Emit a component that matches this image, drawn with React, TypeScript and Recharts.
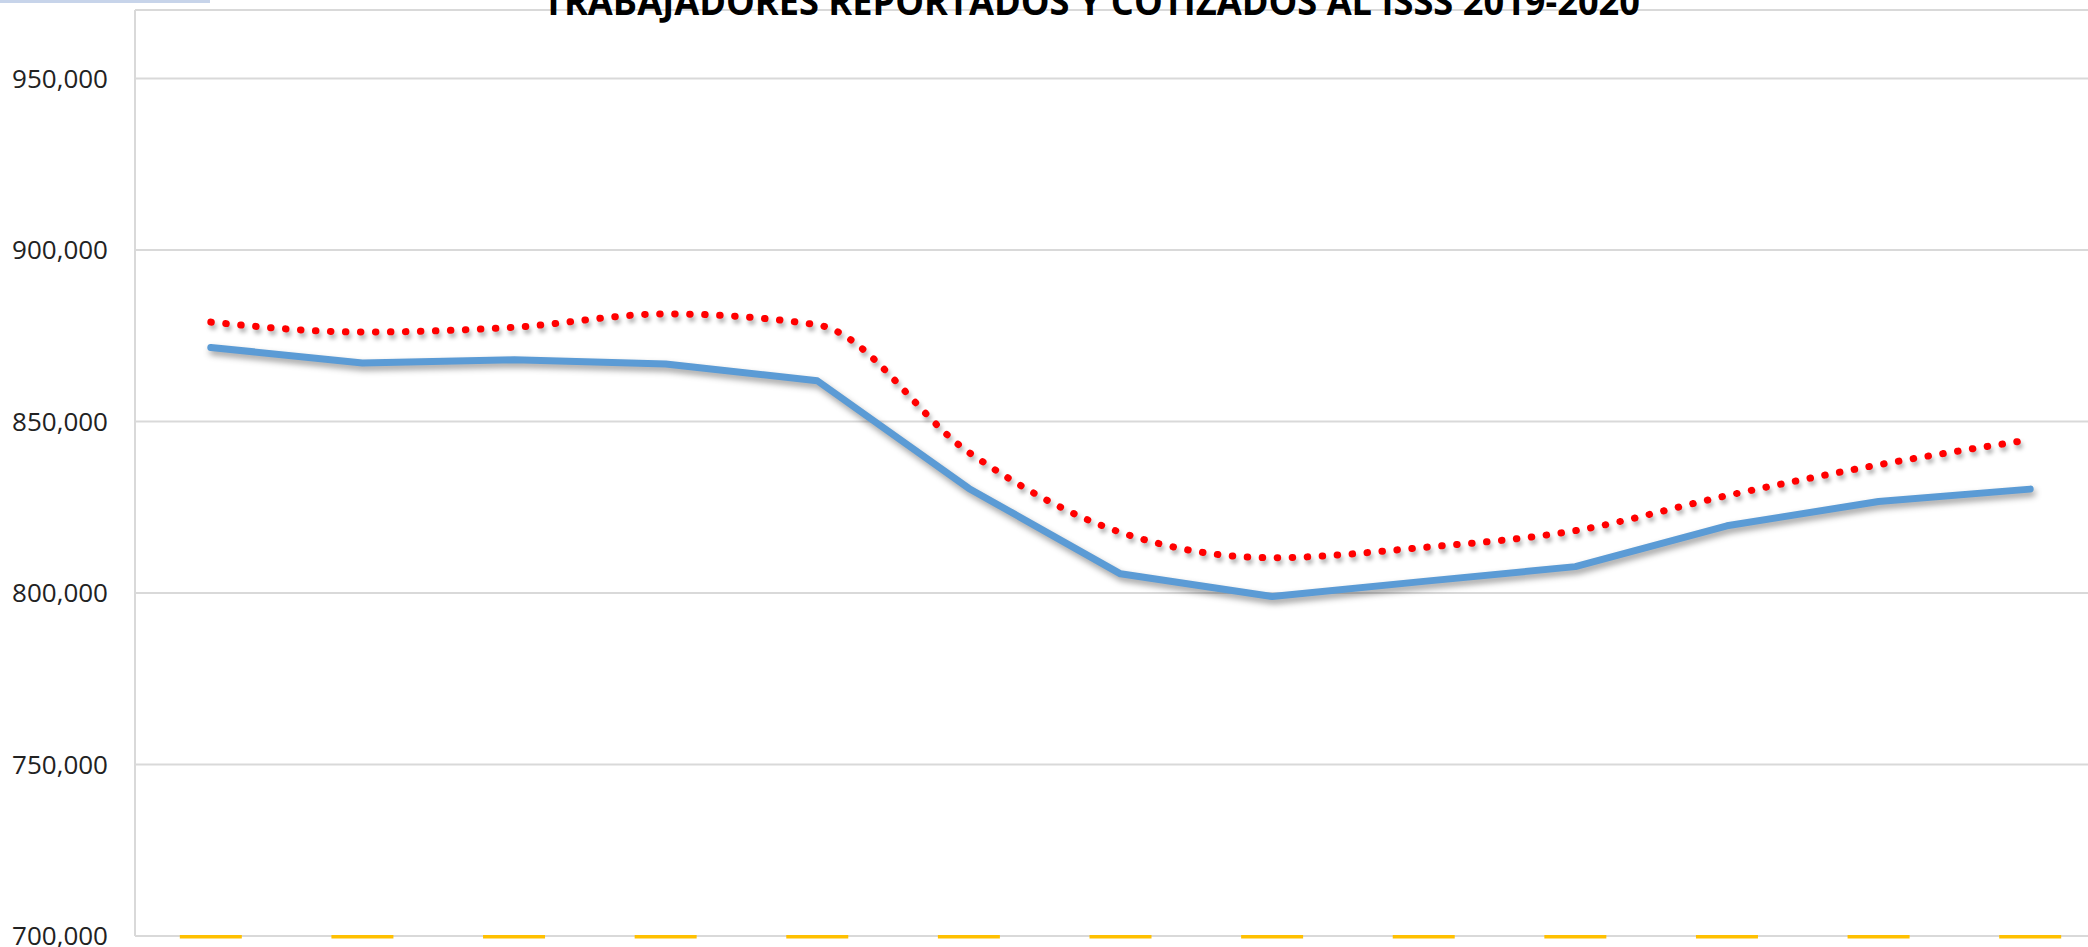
import { LineChart, Line, XAxis, YAxis, CartesianGrid, ReferenceLine } from "recharts";

// meses (no se muestran etiquetas en el eje X)
const meses = [
  "nov-19", "dic-19", "ene-20", "feb-20", "mar-20", "abr-20", "may-20",
  "jun-20", "jul-20", "ago-20", "sep-20", "oct-20", "nov-20",
];
const reportados = [
  879000, 876100, 877500, 881400, 878200, 841000, 817700,
  810300, 813300, 818200, 828400, 837400, 844700,
];
const cotizados = [
  871600, 867100, 868000, 866800, 861900, 830500, 805600,
  799000, 803400, 807700, 819600, 826700, 830300,
];
const serie3 = [
  700000, 700000, 700000, 700000, 700000, 700000, 700000,
  700000, 700000, 700000, 700000, 700000, 700000,
];
const yTicks = [700000, 750000, 800000, 850000, 900000, 950000];
const limitesMes = [0.5, 1.5, 2.5, 3.5, 4.5, 5.5, 6.5, 7.5, 8.5, 9.5, 10.5, 11.5, 12.5, 13.5];

const data = meses.map((mes, i) => ({
  idx: i + 1,
  mes,
  reportados: reportados[i],
  cotizados: cotizados[i],
  serie3: serie3[i],
}));

const GRID = "#d9d9d9";
const titulo = "TRABAJADORES REPORTADOS Y COTIZADOS AL ISSS 2019-2020";

const fmt = (v: number) => v.toLocaleString("en-US");

// marcador en forma de guion para la tercera serie
const Guion = (props: any) => {
  const { cx, cy } = props;
  if (cx == null || cy == null) return null;
  return <rect x={cx - 31} y={cy - 1} width={62} height={3.5} fill="#ffc000" />;
};

export default function App() {
  return (
    <div
      style={{
        position: "absolute",
        left: 0,
        top: 0,
        width: 2088,
        height: 947,
        overflow: "hidden",
        background: "#fff",
      }}
    >
      <style>{`
        .linea-azul path { filter: drop-shadow(2px 4px 3px rgba(0,0,0,0.38)); }
        .linea-roja path { filter: drop-shadow(2px 4px 2px rgba(0,0,0,0.3)); }
        .guiones rect { filter: drop-shadow(1px 2px 1px rgba(0,0,0,0.15)); }
      `}</style>
      <div
        style={{
          position: "absolute",
          left: 0,
          top: 0,
          width: 210,
          height: 3,
          background: "#c7d4ea",
        }}
      />
      <LineChart
        width={2110}
        height={960}
        data={data}
        margin={{ top: 10, right: 4, bottom: 13, left: 0 }}
      >
        <CartesianGrid stroke={GRID} strokeWidth={2} horizontal vertical />
        <XAxis
          dataKey="idx"
          type="number"
          domain={[0.5, 13.5]}
          ticks={limitesMes}
          tick={false}
          tickLine={false}
          height={11}
          axisLine={{ stroke: GRID, strokeWidth: 2 }}
        />
        <YAxis
          domain={[700000, 970000]}
          ticks={yTicks}
          interval={0}
          width={135}
          tickSize={0}
          tickMargin={27}
          axisLine={false}
          tickLine={false}
          tickFormatter={fmt}
          tick={{ fill: "#222", fontSize: 26, fontFamily: "'Open Sans', sans-serif" }}
        />
        <ReferenceLine y={970000} stroke={GRID} strokeWidth={2} />
        <Line
          className="guiones"
          dataKey="serie3"
          stroke="none"
          dot={<Guion />}
          activeDot={false}
          isAnimationActive={false}
        />
        <Line
          className="linea-azul"
          dataKey="cotizados"
          type="linear"
          stroke="#5b9bd5"
          strokeWidth={7}
          strokeLinecap="round"
          strokeLinejoin="round"
          dot={false}
          activeDot={false}
          isAnimationActive={false}
        />
        <Line
          className="linea-roja"
          dataKey="reportados"
          type="monotone"
          stroke="#ff0000"
          strokeWidth={7}
          strokeLinecap="round"
          strokeDasharray="0.5 14.5"
          dot={false}
          activeDot={false}
          isAnimationActive={false}
        />
      </LineChart>
      <svg
        width={2088}
        height={40}
        style={{ position: "absolute", left: 0, top: 0, pointerEvents: "none" }}
      >
        <text
          x={543}
          y={15}
          textLength={1097}
          lengthAdjust="spacingAndGlyphs"
          fontSize={37}
          fontWeight="bold"
          fontFamily="'Open Sans', sans-serif"
          fill="#000"
        >
          {titulo}
        </text>
      </svg>
    </div>
  );
}
